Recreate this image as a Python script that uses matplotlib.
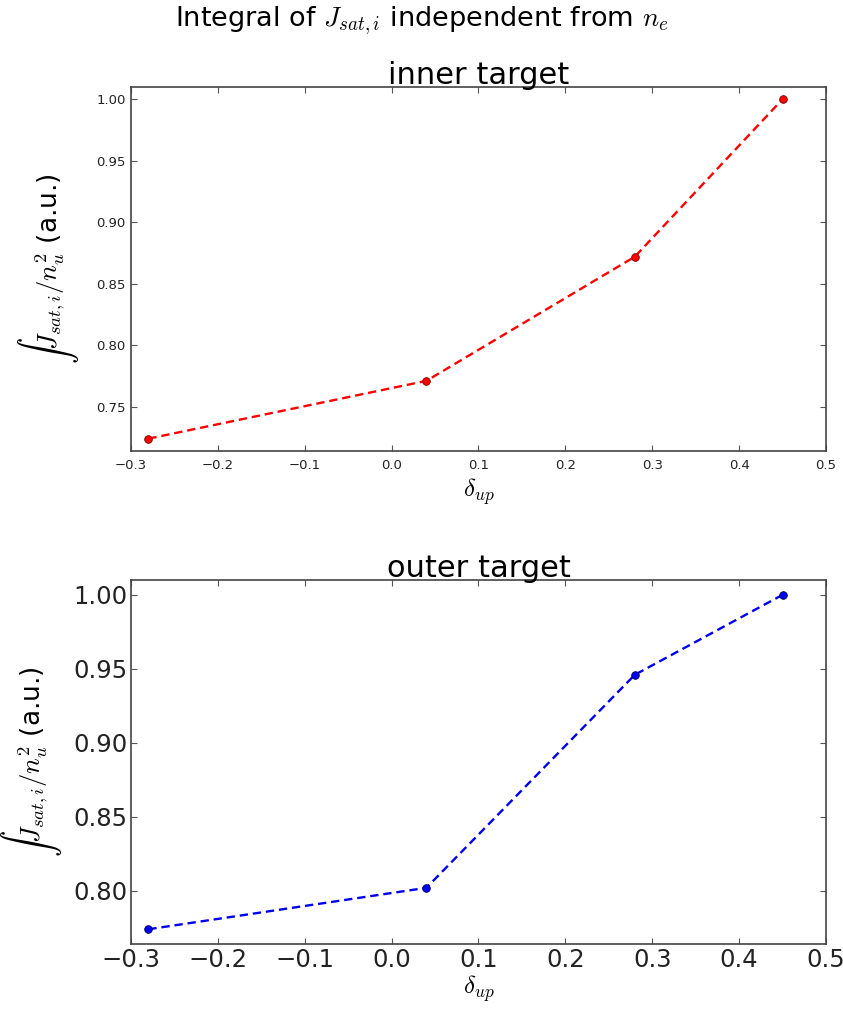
import matplotlib
matplotlib.use("Agg")
import matplotlib.pyplot as plt

# Upstream triangularity and normalised J_sat integrals
delta_up = [-0.28, 0.04, 0.28, 0.45]
inner_vals = [0.724, 0.771, 0.872, 1.000]
outer_vals = [0.774, 0.802, 0.946, 1.000]

xticks = [-0.3, -0.2, -0.1, 0.0, 0.1, 0.2, 0.3, 0.4, 0.5]

plt.rcParams["mathtext.fontset"] = "cm"
plt.rcParams["font.family"] = ["DejaVu Sans"]
plt.rcParams["lines.scale_dashes"] = False

fig = plt.figure(figsize=(8.43, 10.10), dpi=100)
fig.patch.set_facecolor("white")

fig.text(0.5, 1 - 5 / 1010, r"Integral of $J_{sat,i}$ independent from $n_e$",
         fontsize=19.5, ha="center", va="top")


def style_axes(ax, tick_size, xpad, ypad):
    for sp in ax.spines.values():
        sp.set_color("#444444")
        sp.set_linewidth(1.2)
    ax.tick_params(direction="in", top=True, right=True, length=4,
                   width=0.8, color="#555555", labelsize=tick_size,
                   labelcolor="#222222")
    ax.tick_params(axis="x", pad=xpad)
    ax.tick_params(axis="y", pad=ypad)


def panel(rect, yvals, color, title, tick_size, yticks, edge, ylab_x,
          xpad, ypad, xlabpad):
    ax = fig.add_axes(rect)
    ax.plot(delta_up, yvals, linestyle="--", dashes=(6, 3.5),
            color=color, linewidth=1.7, marker="o", markersize=5.5,
            markerfacecolor=color, markeredgecolor=edge,
            markeredgewidth=0.6)
    ax.set_xlim(-0.3, 0.5)
    lo, hi = min(yvals), max(yvals)
    ax.set_ylim(lo - 0.01, hi + 0.01)
    ax.set_xticks(xticks)
    ax.set_xticklabels([f"{t:.1f}".replace("-", "\u2212") for t in xticks])
    ax.set_yticks(yticks)
    ax.set_yticklabels([f"{t:.2f}" for t in yticks])
    ax.set_title(title, fontsize=22, pad=2)
    ax.set_xlabel(r"$\delta_{up}$", fontsize=18, labelpad=xlabpad)
    ax.set_ylabel(r"$\int J_{sat,i}/n_u^2$ (a.u.)", fontsize=19)
    ax.yaxis.set_label_coords(ylab_x, 0.5)
    style_axes(ax, tick_size, xpad, ypad)
    return ax


panel([0.1554, 0.5535, 0.8244, 0.3604], inner_vals, "#ff0000",
      "inner target", 9.5, [0.75, 0.80, 0.85, 0.90, 0.95, 1.00], "#700000",
      -0.072, 6, 4, 3)
panel([0.1554, 0.0653, 0.8244, 0.3604], outer_vals, "#0000ee",
      "outer target", 17.5, [0.80, 0.85, 0.90, 0.95, 1.00], "#000060",
      -0.096, 2.5, 2.5, 1)

fig.savefig("out.png", dpi=100, facecolor="white")
